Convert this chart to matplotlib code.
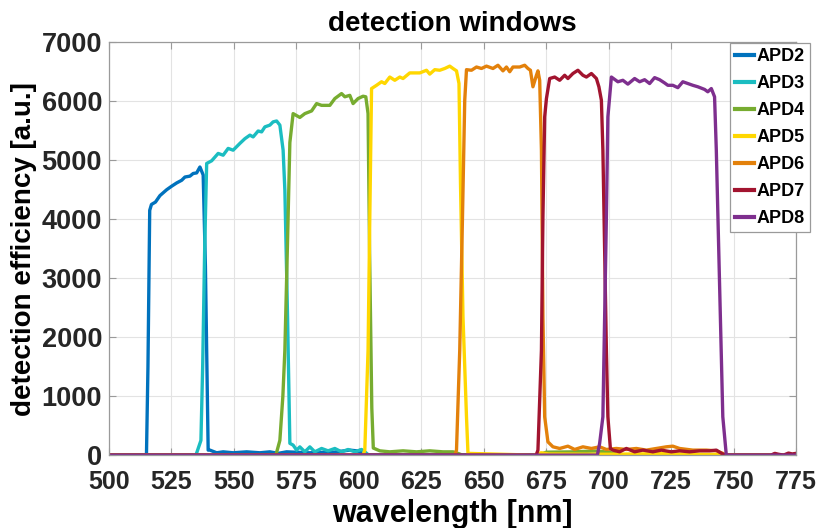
import numpy as np
import matplotlib
matplotlib.use("Agg")
import matplotlib.pyplot as plt

plt.rcParams["font.family"] = ["Liberation Sans", "DejaVu Sans"]
plt.rcParams["font.weight"] = "bold"

# detection efficiency of each APD channel, wavelength [nm] -> efficiency [a.u.]
apd2_wl = [500, 515.0, 515.6, 516.3, 517.0, 518.6, 520.4, 523.1, 525.1, 527.1,
           529.1, 530.4, 532.4, 533.7, 535.1, 536.4, 537.7, 538.6, 539.1, 539.7,
           540.4, 543.1, 545.7, 549.7, 555.1, 560.4, 564.4, 567.7, 571.1, 580,
           590, 596.4, 599.1, 601.7, 604, 775]
apd2_val = [0, 0, 1500, 4150, 4250, 4290, 4400, 4500, 4560, 4615,
            4660, 4715, 4730, 4775, 4785, 4885, 4750, 3200, 1780, 85,
            85, 40, 56, 40, 56, 40, 56, 30, 56, 40,
            50, 85, 73, 40, 0, 0]

apd3_wl = [500, 534.8, 536.8, 537.5, 538.3, 539.1, 541.1, 543.7, 545.7, 547.7,
           549.7, 552.4, 554.4, 556.4, 557.7, 559.7, 561.1, 562.4, 564.4, 565.7,
           567.1, 568.4, 569.7, 570.4, 571.5, 572.4, 573.7, 575.1, 576.4, 578.4,
           580.4, 582.4, 585.1, 587.7, 590.4, 593.1, 595.7, 598.4, 601.1, 602.4,
           604, 775]
apd3_val = [0, 0, 250, 1500, 3500, 4945, 4990, 5115, 5085, 5200,
            5170, 5285, 5365, 5425, 5395, 5495, 5480, 5565, 5595, 5650,
            5665, 5595, 5170, 4490, 2300, 200, 170, 85, 140, 56,
            140, 56, 113, 73, 113, 56, 96, 56, 96, 56,
            0, 0]

apd4_wl = [500, 566.8, 568.4, 569.6, 570.4, 571.4, 572.4, 573.7, 576.4, 578.4,
           581.1, 583.1, 585.1, 588.4, 590.4, 593.1, 594.4, 596.4, 597.7, 599.7,
           601.7, 602.8, 603.7, 604.3, 605.2, 605.8, 608.4, 612.4, 617.7, 623.1,
           628.4, 633.7, 637.7, 639.7, 641.5, 672, 675, 685, 695, 700, 705, 775]
apd4_val = [0, 0, 250, 1000, 1780, 3500, 5300, 5790, 5725, 5790,
            5835, 5960, 5930, 5930, 6045, 6130, 6075, 6100, 5960, 6045,
            6085, 6075, 5790, 3500, 800, 120, 73, 56, 73, 56,
            73, 56, 56, 30, 0, 0, 50, 55, 70, 50, 0, 0]

apd5_wl = [500, 601.7, 602.4, 603.7, 604.4, 605.1, 607.1, 609.1, 610.4, 612.4,
           614.4, 616.4, 617.7, 620.4, 624.4, 627.1, 628.4, 630.4, 632.4, 634.4,
           636.4, 637.7, 639.1, 640.1, 640.7, 641.7, 643.1, 643.7, 670, 673,
           676, 700, 720, 745, 748, 775]
apd5_val = [0, 0, 85, 1780, 4040, 6215, 6270, 6330, 6300, 6410,
            6355, 6410, 6385, 6480, 6480, 6525, 6460, 6535, 6525, 6555,
            6595, 6555, 6515, 6300, 4605, 2345, 650, 30, 0, 40,
            20, 15, 25, 10, 0, 0]

apd6_wl = [500, 638.4, 639.1, 640.4, 641.5, 642.4, 643.1, 645.1, 647.1, 649.1,
           651.1, 653.7, 655.7, 657.7, 659.1, 660.4, 661.7, 664.4, 666.4, 667.7,
           668.7, 669.7, 671.1, 671.7, 672.4, 673.1, 673.7, 674.4, 675.7, 677.7,
           680.4, 683.7, 686.4, 689.7, 693.1, 696.4, 699.1, 703.1, 707.1, 711.1,
           715.1, 719.1, 723.1, 725.7, 728.4, 733.7, 739.1, 743.1, 745.7, 747,
           775]
apd6_val = [0, 0, 85, 1780, 4040, 6015, 6535, 6525, 6580, 6555,
            6595, 6555, 6610, 6515, 6580, 6500, 6580, 6580, 6610, 6555,
            6525, 6245, 6440, 6515, 6355, 5170, 2345, 650, 225, 141,
            113, 152, 96, 141, 113, 141, 96, 113, 96, 113,
            85, 113, 141, 152, 113, 85, 85, 73, 30, 0,
            0]

apd7_wl = [500, 671.0, 671.7, 673.1, 673.7, 674.4, 675.1, 676.4, 678.4, 680.4,
           682.4, 683.7, 685.7, 687.7, 689.7, 691.1, 693.1, 695.1, 696.1, 697.1,
           697.7, 698.4, 699.1, 699.7, 700.7, 701.7, 704.4, 707.1, 710.4, 713.7,
           717.7, 721.1, 725.1, 728.4, 732.4, 736.4, 740.4, 743.1, 745.7, 747,
           765, 766.5, 768, 770, 772, 773.5, 775]
apd7_val = [0, 0, 85, 1780, 4040, 5735, 6045, 6385, 6410, 6355,
            6440, 6385, 6470, 6525, 6440, 6410, 6470, 6385, 6245, 6017,
            5170, 3475, 1780, 650, 113, 85, 56, 113, 56, 85,
            56, 85, 56, 73, 56, 73, 73, 85, 17, 0,
            0, 30, 15, 0, 35, 20, 30]

apd8_wl = [500, 695.5, 696.4, 697.7, 698.4, 699.1, 699.7, 701.1, 703.7, 705.7,
           707.7, 710.4, 712.4, 714.4, 716.4, 718.4, 720.4, 722.4, 723.7, 725.7,
           727.7, 729.7, 731.7, 733.7, 735.7, 738.4, 739.7, 741.1, 742.4, 743.1,
           744.4, 745.7, 747.1, 775]
apd8_val = [0, 0, 200, 650, 2345, 4040, 5735, 6410, 6330, 6355,
            6290, 6385, 6330, 6365, 6300, 6400, 6365, 6310, 6270, 6270,
            6230, 6330, 6300, 6270, 6245, 6200, 6160, 6215, 6075, 5170,
            2910, 650, 0, 0]

labels = ["APD2", "APD3", "APD4", "APD5", "APD6", "APD7", "APD8"]
colors = ["#0072BD", "#1BBDC1", "#77AC30", "#FFD700",
          "#E3810B", "#A2142F", "#7E2F8E"]
series = [(apd2_wl, apd2_val), (apd3_wl, apd3_val), (apd4_wl, apd4_val),
          (apd5_wl, apd5_val), (apd6_wl, apd6_val), (apd7_wl, apd7_val),
          (apd8_wl, apd8_val)]

fig = plt.figure(figsize=(8.17, 5.28), dpi=100)
ax = fig.add_axes([0.1334, 0.138, 0.8409, 0.782])

for (wl, val), lab, col in zip(series, labels, colors):
    ax.plot(np.asarray(wl), np.asarray(val), color=col, lw=2.4, label=lab)

ax.set_xlim(500, 775)
ax.set_ylim(0, 7000)
ax.set_xticks(np.arange(500, 776, 25))
ax.set_yticks(np.arange(0, 7001, 1000))
ax.grid(True, color="#e3e3e3", lw=0.8)
ax.set_axisbelow(True)

for sp in ax.spines.values():
    sp.set_color("#9a9a9a")
    sp.set_linewidth(0.9)
ax.tick_params(direction="in", length=5, width=0.8, color="#9a9a9a",
               top=True, right=True, labelcolor="#262626")
ax.tick_params(axis="x", labelsize=18, pad=11)
ax.tick_params(axis="y", labelsize=19.5, pad=5)
for t in ax.get_xticklabels() + ax.get_yticklabels():
    t.set_fontweight("bold")

ax.set_xlabel("wavelength [nm]", fontsize=22, fontweight="bold", labelpad=3)
ax.set_ylabel("detection efficiency [a.u.]", fontsize=20, fontweight="bold",
              labelpad=3)
ax.set_title("detection windows", fontsize=20, fontweight="bold", pad=8)

leg = ax.legend(loc="upper right", bbox_to_anchor=(810 / 817, 1 - 43 / 528),
                bbox_transform=fig.transFigure, borderaxespad=0,
                fontsize=13, handlelength=1.05, handletextpad=0.12,
                labelspacing=0.55, borderpad=0.3, fancybox=False,
                framealpha=1, edgecolor="#9a9a9a")
leg.get_frame().set_linewidth(0.9)
for line in leg.get_lines():
    line.set_linewidth(3.0)
for t in leg.get_texts():
    t.set_fontweight("bold")

fig.savefig("out.png", dpi=100)
